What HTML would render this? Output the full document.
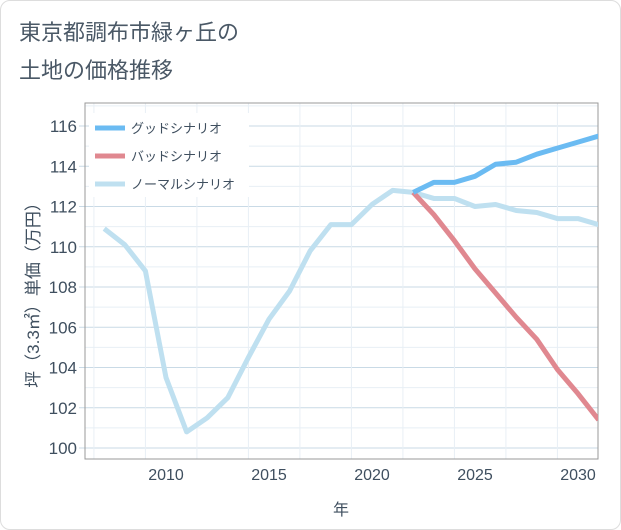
<!DOCTYPE html>
<html><head><meta charset="utf-8"><style>
body{margin:0;background:#fff;font-family:"Liberation Sans","Noto Sans CJK JP",sans-serif}
#wrap{position:relative;width:619px;height:528px;border:1px solid #ddd;border-radius:10px;background:#fff;overflow:hidden}
.t{position:absolute;left:18px;font-size:22px;color:#4a5866}
</style></head><body>
<div id="wrap">
<div class="t" style="top:14px">東京都調布市緑ヶ丘の</div>
<div class="t" style="top:52px">土地の価格推移</div>
<svg id="c" width="621" height="530" style="position:absolute;left:0;top:0"></svg>
</div>
<script>
const years=[2007,2008,2009,2010,2011,2012,2013,2014,2015,2016,2017,2018,2019,2020,2021,2022,2023,2024,2025,2026,2027,2028,2029,2030,2031];
const normalVals=[110.9,110.1,108.8,103.5,100.8,101.5,102.5,104.5,106.4,107.8,109.8,111.1,111.1,112.1,112.8,112.7,112.4,112.4,112.0,112.1,111.8,111.7,111.4,111.4,111.1];
const goodYears=[2022,2023,2024,2025,2026,2027,2028,2029,2030,2031];
const goodVals=[112.7,113.2,113.2,113.5,114.1,114.2,114.6,114.9,115.2,115.5];
const badVals=[112.7,111.6,110.3,108.9,107.7,106.5,105.4,103.9,102.7,101.4];
const yTicks=[100,102,104,106,108,110,112,114,116];
const xTicks=[2010,2015,2020,2025,2030];
const legendLabels=["グッドシナリオ","バッドシナリオ","ノーマルシナリオ"];
const colors=["#6bbbf2","#e08890","#bfe0f0"];
const L=84,R=597,T=102,B=458;
const x=v=>165+(v-2010)*20.6;
const y=v=>447-(v-100)*20.125;
const svg=document.getElementById('c');
const NS='http://www.w3.org/2000/svg';
function mk(t,a){const e=document.createElementNS(NS,t);for(const k in a)e.setAttribute(k,a[k]);svg.appendChild(e);return e;}
for(let v=99;v<=117;v++){if(y(v)<T||y(v)>B)continue;const g=mk('line',{x1:v%2?L:L-6,x2:R,y1:y(v),y2:y(v),stroke:v%2?'#e8eff5':'#c9dae6','stroke-width':1});

}
for(let v=2006.5;v<=2031;v+=2.5){if(x(v)<L||x(v)>R)continue;const g=mk('line',{x1:x(v),x2:x(v),y1:T,y2:B,stroke:(v%5===0)?'#c9dae6':'#e8eff5','stroke-width':1});

}
const fr=mk('rect',{x:L,y:T,width:R-L,height:B-T,fill:'none',stroke:'#999','stroke-width':1});


yTicks.forEach(v=>{const t=mk('text',{x:76,y:y(v)+6,'text-anchor':'end','font-size':17,fill:'#3f4f5f'});t.textContent=v;

});
xTicks.forEach(v=>{const t=mk('text',{x:x(v),y:479,'text-anchor':'middle','font-size':16,fill:'#3f4f5f'});t.textContent=v;

});
const xt=mk('text',{x:340,y:514,'text-anchor':'middle','font-size':16,fill:'#3f4f5f'});xt.textContent='年';


const yt=mk('text',{x:0,y:0,'text-anchor':'middle','font-size':17,fill:'#3f4f5f',transform:'translate(38,290) rotate(-90)'});yt.textContent='坪（3.3㎡）単価（万円）';


const g=mk('g',{'clip-path':'url(#cp)'});
const cp=mk('clipPath',{id:'cp'});const cr=document.createElementNS(NS,'rect');
cr.setAttribute('x',L);cr.setAttribute('y',T);cr.setAttribute('width',R-L);cr.setAttribute('height',B-T);cp.appendChild(cr);
function line(xs,vs,col,name){const p=document.createElementNS(NS,'polyline');
p.setAttribute('points',xs.map((yr,i)=>x(yr)+','+y(vs[i])).join(' '));
p.setAttribute('fill','none');p.setAttribute('stroke',col);p.setAttribute('stroke-width',5);p.setAttribute('stroke-linejoin','round');


g.appendChild(p);}
line(years,normalVals,colors[2],'normal-scenario-line');
line(goodYears,badVals,colors[1],'bad-scenario-line');
line(goodYears,goodVals,colors[0],'good-scenario-line');
const lb=mk('rect',{x:88,y:112,width:160,height:84,fill:'#fff'});


legendLabels.forEach((s,i)=>{const ly=127+i*28;
const l=mk('line',{x1:94,x2:124,y1:ly,y2:ly,stroke:colors[i],'stroke-width':5});


const t=mk('text',{x:130,y:ly+5,'font-size':13,fill:'#3f4f5f'});t.textContent=s;

});
</script>
</body></html>
